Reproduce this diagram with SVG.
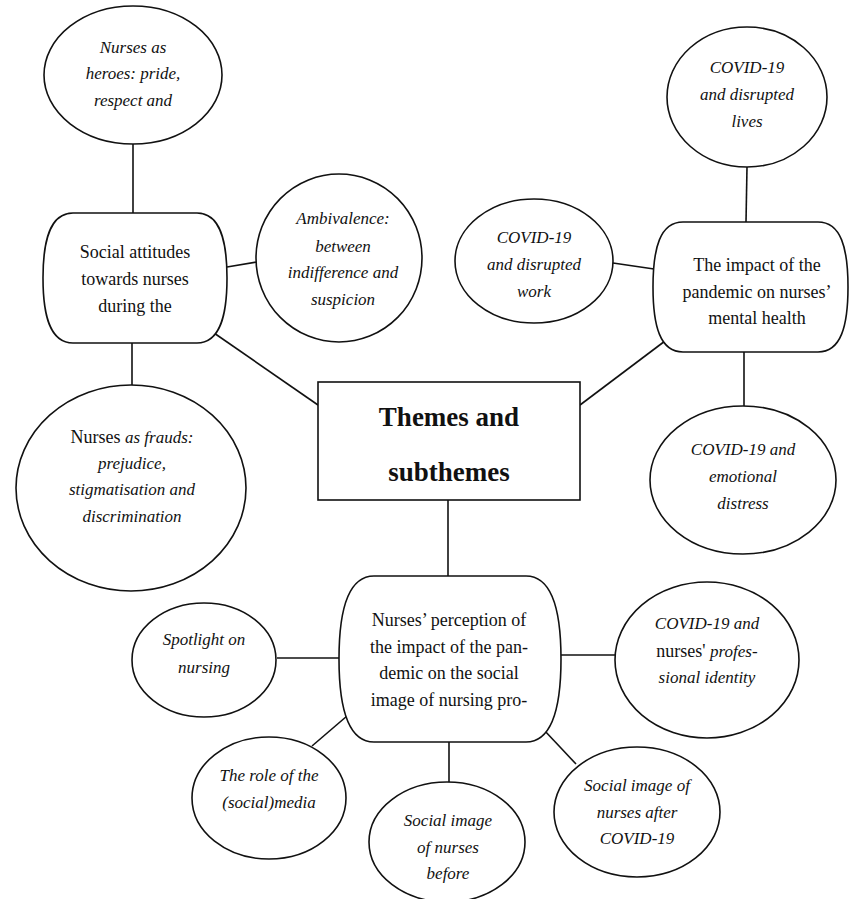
<svg xmlns="http://www.w3.org/2000/svg" width="849" height="899" viewBox="0 0 849 899">
<style>
.shape{fill:#fff;stroke:#111;stroke-width:1.6}
.conn line{stroke:#111;stroke-width:1.6}
text{font-family:"Liberation Serif","Times New Roman",serif;fill:#111;text-anchor:middle}
.n{font-size:18px}
.i{font-size:17px;font-style:italic}
.t{font-size:27px;font-weight:bold}
</style>
<rect width="849" height="899" fill="#fff"/>
<g id="connectors" class="conn">
<line x1="133" y1="144" x2="133" y2="213"/>
<line x1="227" y1="267" x2="257" y2="262"/>
<line x1="132" y1="343" x2="132" y2="385"/>
<line x1="214" y1="333" x2="318" y2="405"/>
<line x1="747" y1="167" x2="746" y2="222"/>
<line x1="613" y1="263" x2="654" y2="269"/>
<line x1="665" y1="341" x2="580" y2="405"/>
<line x1="744" y1="352" x2="744" y2="407"/>
<line x1="448" y1="500" x2="448" y2="576"/>
<line x1="277" y1="658" x2="339" y2="658"/>
<line x1="561" y1="655" x2="615" y2="655"/>
<line x1="347" y1="716" x2="312" y2="746"/>
<line x1="449" y1="742" x2="449" y2="782"/>
<line x1="544" y1="730" x2="576" y2="764"/>
</g>
<g id="center">
<rect class="shape" x="318" y="382" width="262" height="118"/>
<text class="t" x="449" y="426">Themes and</text>
<text class="t" x="449" y="481">subthemes</text>
</g>
<g id="theme-social-attitudes">
<path class="shape" d="M73,213 H197 C220,213 227,240 227,278 C227,316 220,343 197,343 H73 C50,343 43,316 43,278 C43,240 50,213 73,213 Z"/>
<text class="n" x="135" y="258">Social attitudes</text>
<text class="n" x="135" y="285">towards nurses</text>
<text class="n" x="135" y="312">during the</text>
</g>
<g id="sub-heroes">
<ellipse class="shape" cx="133" cy="75" rx="89" ry="69"/>
<text class="i" x="133" y="53">Nurses as</text>
<text class="i" x="133" y="79">heroes: pride,</text>
<text class="i" x="133" y="106">respect and</text>
</g>
<g id="sub-ambivalence">
<ellipse class="shape" cx="339" cy="258" rx="83" ry="84"/>
<text class="i" x="343" y="224">Ambivalence:</text>
<text class="i" x="343" y="252">between</text>
<text class="i" x="343" y="278">indifference and</text>
<text class="i" x="343" y="305">suspicion</text>
</g>
<g id="sub-frauds">
<ellipse class="shape" cx="131" cy="488" rx="115" ry="103"/>
<text x="132" y="443"><tspan class="n">Nurses </tspan><tspan class="i">as frauds:</tspan></text>
<text class="i" x="132" y="469">prejudice,</text>
<text class="i" x="132" y="495">stigmatisation and</text>
<text class="i" x="132" y="522">discrimination</text>
</g>
<g id="theme-mental-health">
<path class="shape" d="M683,222 H818 C841,222 848,248 848,287 C848,326 841,352 818,352 H683 C660,352 653,326 653,287 C653,248 660,222 683,222 Z"/>
<text class="n" x="757" y="271">The impact of the</text>
<text class="n" x="757" y="298">pandemic on nurses’</text>
<text class="n" x="757" y="324">mental health</text>
</g>
<g id="sub-lives">
<ellipse class="shape" cx="747" cy="97" rx="80" ry="70"/>
<text class="i" x="747" y="73">COVID-19</text>
<text class="i" x="747" y="100">and disrupted</text>
<text class="i" x="747" y="127">lives</text>
</g>
<g id="sub-work">
<ellipse class="shape" cx="534" cy="261" rx="79" ry="62"/>
<text class="i" x="534" y="243">COVID-19</text>
<text class="i" x="534" y="270">and disrupted</text>
<text class="i" x="534" y="297">work</text>
</g>
<g id="sub-emotional">
<ellipse class="shape" cx="743" cy="480" rx="93" ry="74"/>
<text class="i" x="743" y="455">COVID-19 and</text>
<text class="i" x="743" y="482">emotional</text>
<text class="i" x="743" y="509">distress</text>
</g>
<g id="theme-social-image">
<path class="shape" d="M374,576 H526 C552,576 561,610 561,659 C561,708 552,742 526,742 H374 C348,742 339,708 339,659 C339,610 348,576 374,576 Z"/>
<text class="n" x="449" y="626">Nurses’ perception of</text>
<text class="n" x="449" y="653">the impact of the pan-</text>
<text class="n" x="449" y="679">demic on the social</text>
<text class="n" x="449" y="706">image of nursing pro-</text>
</g>
<g id="sub-spotlight">
<ellipse class="shape" cx="204" cy="660" rx="72" ry="57"/>
<text class="i" x="204" y="645">Spotlight on</text>
<text class="i" x="204" y="673">nursing</text>
</g>
<g id="sub-professional">
<ellipse class="shape" cx="707" cy="660" rx="92" ry="78"/>
<text class="i" x="707" y="629">COVID-19 and</text>
<text x="707" y="657"><tspan class="n">nurses' </tspan><tspan class="i">profes-</tspan></text>
<text class="i" x="707" y="683">sional identity</text>
</g>
<g id="sub-media">
<ellipse class="shape" cx="269" cy="798" rx="77" ry="61"/>
<text class="i" x="269" y="781">The role of the</text>
<text class="i" x="269" y="808">(social)media</text>
</g>
<g id="sub-before">
<ellipse class="shape" cx="447" cy="842" rx="78" ry="60"/>
<text class="i" x="448" y="826">Social image</text>
<text class="i" x="448" y="853">of nurses</text>
<text class="i" x="448" y="879">before</text>
</g>
<g id="sub-after">
<ellipse class="shape" cx="637" cy="812" rx="83" ry="65"/>
<text class="i" x="637" y="791">Social image of</text>
<text class="i" x="637" y="818">nurses after</text>
<text class="i" x="637" y="844">COVID-19</text>
</g>
</svg>
